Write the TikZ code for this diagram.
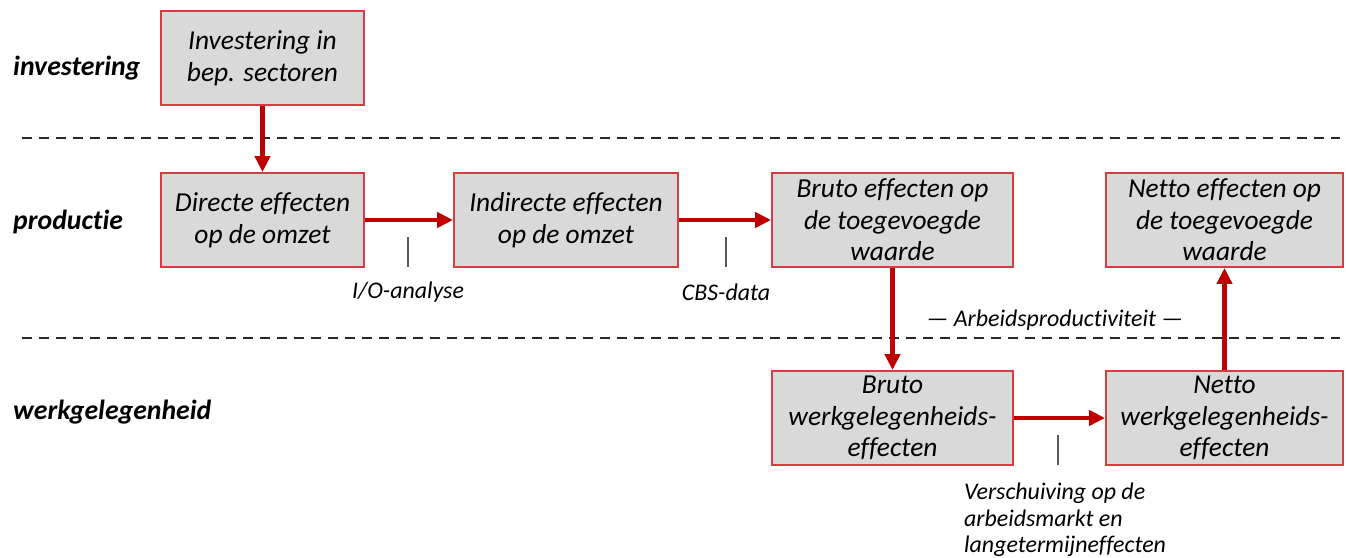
\documentclass[tikz,border=0pt]{standalone}
\usepackage{fontspec}
\setmainfont[Ligatures=NoCommon]{Carlito}
\usetikzlibrary{arrows.meta}

\definecolor{boxred}{RGB}{214,60,64}
\definecolor{arrowred}{RGB}{192,0,0}
\definecolor{boxgray}{RGB}{217,217,217}

\tikzset{
  effect/.style={draw=boxred,line width=1.1pt,fill=boxgray,align=center,inner sep=0pt,
    font=\fontsize{15.6}{18}\selectfont\itshape},
  flow/.style={arrowred,line width=2.3pt,-{Triangle[length=9pt,width=8.5pt]}},
  level/.style={anchor=west,font=\fontsize{15.8}{18}\selectfont\bfseries\itshape},
  source/.style={font=\fontsize{13.6}{15}\selectfont\itshape},
}

\begin{document}
\begin{tikzpicture}[x=0.02cm,y=-0.02cm]
  \useasboundingbox (0,0) rectangle (1346,558);
  \foreach \y in {138,338} {
    \draw[line width=1.7pt,black!85,dash pattern=on 0.2cm off 0.14cm] (22,\y) -- (1340,\y);
  }
  \node[level] (lInv) at (7,68) {investering};
  \node[level] (lProd) at (7,222) {productie};
  \node[level] (lWerk) at (7,412) {werkgelegenheid};

  \node[effect,minimum width=203*0.02cm,minimum height=94*0.02cm] (inv) at (262.5,58) {Investering in\\bep. sectoren};
  \node[effect,minimum width=203*0.02cm,minimum height=94*0.02cm] (dir) at (262.5,220) {Directe effecten\\op de omzet};
  \node[effect,minimum width=224*0.02cm,minimum height=94*0.02cm] (indir) at (566,220) {Indirecte effecten\\op de omzet};
  \node[effect,minimum width=241*0.02cm,minimum height=94*0.02cm] (brutoTW) at (892.5,220) {Bruto effecten op\\de toegevoegde\\waarde};
  \node[effect,minimum width=237*0.02cm,minimum height=94*0.02cm] (nettoTW) at (1224.5,220) {Netto effecten op\\de toegevoegde\\waarde};
  \node[effect,minimum width=241*0.02cm,minimum height=94*0.02cm] (brutoW) at (892.5,418) {Bruto\\werkgelegenheids-\\effecten};
  \node[effect,minimum width=237*0.02cm,minimum height=94*0.02cm] (nettoW) at (1224.5,418) {Netto\\werkgelegenheids-\\effecten};

  \draw[flow] (inv) -- (dir);
  \draw[flow] (dir) -- (indir);
  \draw[flow] (indir) -- (brutoTW);
  \draw[flow] (brutoTW) -- (brutoW);
  \draw[flow] (brutoW) -- (nettoW);
  \draw[flow] (nettoW) -- (nettoTW);

  \foreach \x/\y in {408/237,726/237,1058/435} {
    \draw[line width=0.9pt,black!65] (\x,\y) -- ++(0,30);
  }
  \node[source] (io) at (408,292) {I/O-analyse};
  \node[source] (cbs) at (726,292) {CBS-data};
  \node[source] (arb) at (1055,320) {— Arbeidsproductiviteit —};
  \node[source,anchor=north west,align=left] (versch) at (958,477) {Verschuiving op de\\arbeidsmarkt en\\langetermijneffecten};
\end{tikzpicture}
\end{document}
